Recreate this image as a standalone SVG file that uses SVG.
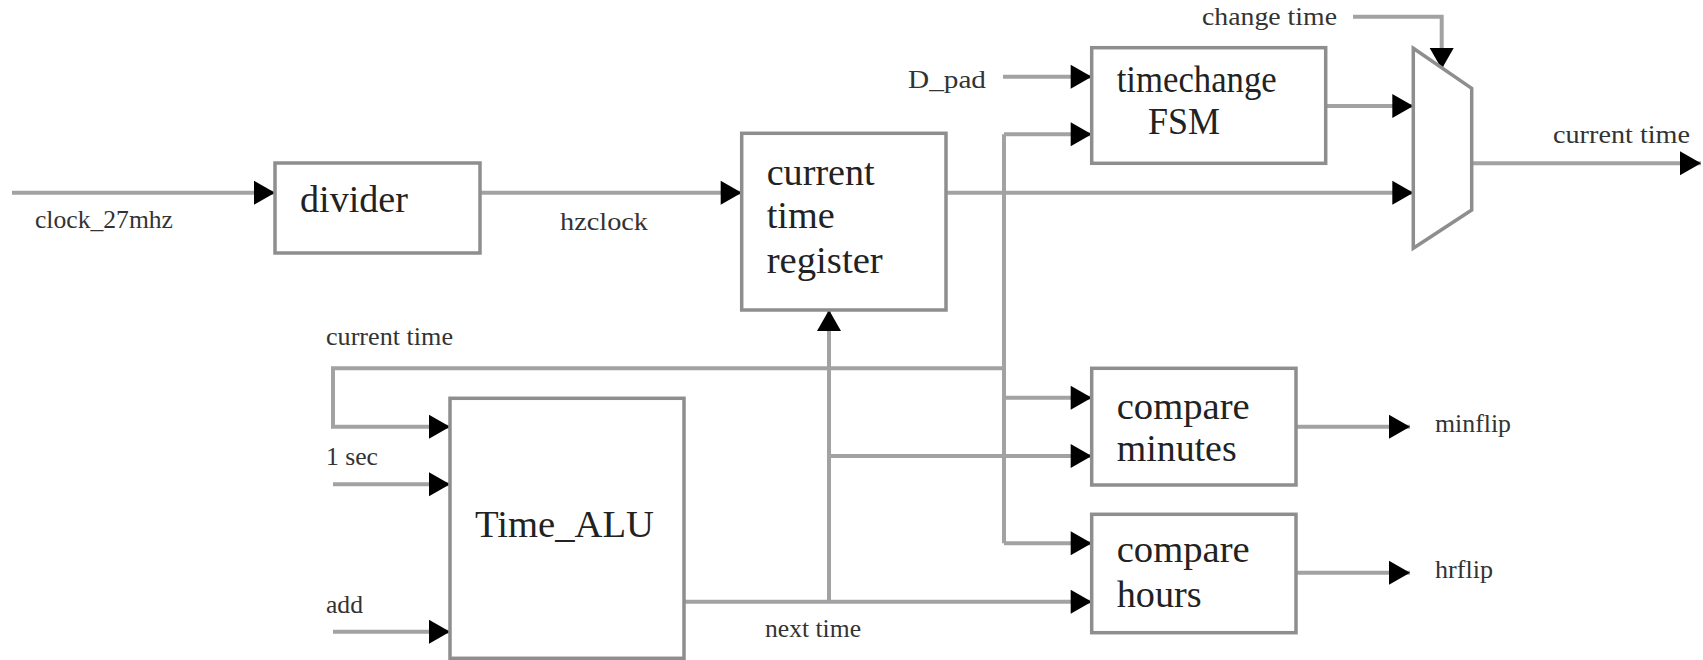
<svg xmlns="http://www.w3.org/2000/svg" width="1703" height="660" viewBox="0 0 1703 660">
  <style>
    .box { fill: #ffffff; stroke: #8e8e8e; stroke-width: 3.5; }
    .wire { fill: none; stroke: #a2a2a2; stroke-width: 4; }
    .arr { marker-end: url(#head); }
    .big { font-family: "Liberation Serif", "Times New Roman", serif; font-size: 37px; fill: #222222; }
    .small { font-family: "Liberation Serif", "Times New Roman", serif; font-size: 26px; fill: #333333; }
  </style>
  <defs>
    <marker id="head" markerUnits="userSpaceOnUse" markerWidth="22" markerHeight="24" refX="21" refY="12" orient="auto" overflow="visible">
      <path d="M0,0 L21,12 L0,24 Z" fill="#000000"/>
    </marker>
  </defs>
  <rect width="1703" height="660" fill="#ffffff"/>

  <g id="connectors">
    <path class="wire arr" d="M12,192.7 H275"/>
    <path class="wire arr" d="M480,192.7 H741.7"/>
    <path class="wire arr" d="M946,192.7 H1413.3"/>
    <path class="wire arr" d="M1325.7,106 H1413.3"/>
    <path class="wire arr" d="M1471.7,163.3 H1701"/>
    <path class="wire arr" d="M1353,16.7 H1441.7 V69"/>
    <path class="wire arr" d="M1003,76.7 H1091.7"/>
    <path class="wire" d="M1004,134.3 V543.3"/>
    <path class="wire arr" d="M1004,134.3 H1091.7"/>
    <path class="wire arr" d="M1004,397.7 H1091.7"/>
    <path class="wire arr" d="M1004,543.3 H1091.7"/>
    <path class="wire arr" d="M1004,368.3 H333 V426.7 H450"/>
    <path class="wire arr" d="M333,484.3 H450"/>
    <path class="wire arr" d="M333,631.7 H450"/>
    <path class="wire arr" d="M684,601.7 H1091.7"/>
    <path class="wire arr" d="M829,601.7 V310"/>
    <path class="wire arr" d="M829,456 H1091.7"/>
    <path class="wire arr" d="M1296,426.7 H1410"/>
    <path class="wire arr" d="M1296,572.7 H1410"/>
  </g>

  <g id="signal-labels">
    <text class="small" x="35" y="228" textLength="138" lengthAdjust="spacingAndGlyphs">clock_27mhz</text>
    <text class="small" x="560" y="230" textLength="88" lengthAdjust="spacingAndGlyphs">hzclock</text>
    <text class="small" x="908" y="88" textLength="78" lengthAdjust="spacingAndGlyphs">D_pad</text>
    <text class="small" x="1202" y="25" textLength="135" lengthAdjust="spacingAndGlyphs">change time</text>
    <text class="small" x="1553" y="143" textLength="137" lengthAdjust="spacingAndGlyphs">current time</text>
    <text class="small" x="326" y="345" textLength="127" lengthAdjust="spacingAndGlyphs">current time</text>
    <text class="small" x="326" y="465" textLength="52" lengthAdjust="spacingAndGlyphs">1 sec</text>
    <text class="small" x="326" y="613" textLength="37" lengthAdjust="spacingAndGlyphs">add</text>
    <text class="small" x="765" y="637" textLength="96" lengthAdjust="spacingAndGlyphs">next time</text>
    <text class="small" x="1435" y="432" textLength="76" lengthAdjust="spacingAndGlyphs">minflip</text>
    <text class="small" x="1435" y="578" textLength="58" lengthAdjust="spacingAndGlyphs">hrflip</text>
  </g>

  <g id="divider">
    <rect class="box" x="275" y="163" width="205" height="90"/>
    <text class="big" x="300" y="212" textLength="108" lengthAdjust="spacingAndGlyphs">divider</text>
  </g>

  <g id="current-time-register">
    <rect class="box" x="741.7" y="133.3" width="204.3" height="176.7"/>
    <text class="big" x="766.7" y="185" textLength="108" lengthAdjust="spacingAndGlyphs">current</text>
    <text class="big" x="766.7" y="228" textLength="68" lengthAdjust="spacingAndGlyphs">time</text>
    <text class="big" x="766.7" y="273" textLength="116" lengthAdjust="spacingAndGlyphs">register</text>
  </g>

  <g id="timechange-fsm">
    <rect class="box" x="1091.7" y="47.7" width="234" height="115.6"/>
    <text class="big" x="1116.7" y="92" textLength="160" lengthAdjust="spacingAndGlyphs">timechange</text>
    <text class="big" x="1148" y="134" textLength="72" lengthAdjust="spacingAndGlyphs">FSM</text>
  </g>

  <g id="mux">
    <polygon class="box" points="1413.3,48.3 1471.7,88.3 1471.7,210 1413.3,248.3"/>
  </g>

  <g id="time-alu">
    <rect class="box" x="450" y="398.3" width="234" height="260"/>
    <text class="big" x="475" y="537" textLength="179" lengthAdjust="spacingAndGlyphs">Time_ALU</text>
  </g>

  <g id="compare-minutes">
    <rect class="box" x="1091.7" y="368.3" width="204.3" height="116.7"/>
    <text class="big" x="1116.7" y="419" textLength="133" lengthAdjust="spacingAndGlyphs">compare</text>
    <text class="big" x="1116.7" y="461" textLength="120" lengthAdjust="spacingAndGlyphs">minutes</text>
  </g>

  <g id="compare-hours">
    <rect class="box" x="1091.7" y="514.3" width="204.3" height="118.4"/>
    <text class="big" x="1116.7" y="562" textLength="133" lengthAdjust="spacingAndGlyphs">compare</text>
    <text class="big" x="1116.7" y="607" textLength="85" lengthAdjust="spacingAndGlyphs">hours</text>
  </g>
</svg>
